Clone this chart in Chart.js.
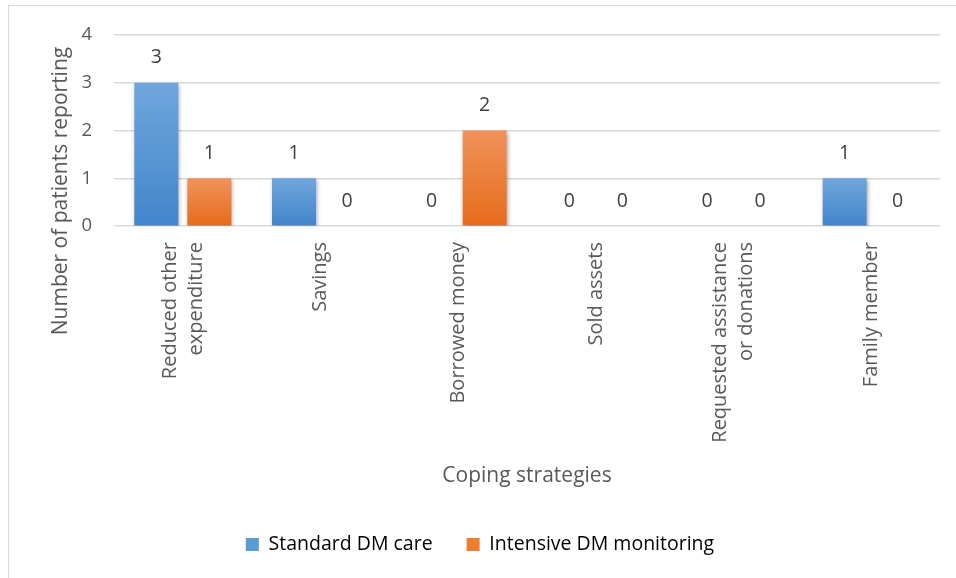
<!DOCTYPE html>
<html>
<head>
<meta charset="utf-8">
<script src="https://cdn.jsdelivr.net/npm/chart.js@4/dist/chart.umd.min.js"></script>
<style>
  html, body { margin: 0; padding: 0; background: #fff; overflow: hidden; }
  #wrap { position: relative; width: 956px; height: 578px; }
  #frame { position: absolute; left: 8px; top: 5px; width: 2000px; height: 2000px;
           border-left: 1.5px solid #d9d9d9; border-top: 1.5px solid #d9d9d9; box-sizing: border-box; }
  #box { position: absolute; left: 0; top: 0; width: 956px; height: 578px; }
</style>
</head>
<body>
<div id="wrap">
  <div id="frame"></div>
  <div id="box"><canvas id="c"></canvas></div>
</div>
<script>
// ---- data ----
const categories = [
  ["Reduced other", "expenditure"],
  "Savings",
  "Borrowed money",
  "Sold assets",
  ["Requested assistance", "or donations"],
  "Family member"
];
const standardCare = [3, 1, 0, 0, 0, 1];
const intensiveMonitoring = [1, 0, 2, 0, 0, 0];
const seriesNames = ["Standard DM care", "Intensive DM monitoring"];
const yTicks = [0, 1, 2, 3, 4];
const xTitle = "Coping strategies";
const yTitle = "Number of patients reporting";

const FONT = "'Open Sans', 'DejaVu Sans', sans-serif";
const blueStops = ["#70a6dc", "#4285cb"];
const orangeStops = ["#f1925c", "#e66c1a"];

function barGradient(stops) {
  return function (ctx) {
    const chart = ctx.chart;
    if (ctx.type !== 'data' || !chart.chartArea) return stops[1];
    const ys = chart.scales.y;
    const top = ys.getPixelForValue(ctx.raw);
    const bottom = ys.getPixelForValue(0);
    if (!isFinite(top) || Math.abs(bottom - top) < 1) return stops[1];
    const g = chart.ctx.createLinearGradient(0, top, 0, bottom);
    g.addColorStop(0, stops[0]);
    g.addColorStop(1, stops[1]);
    return g;
  };
}

const helpers = {
  id: 'helpers',
  beforeDraw(chart) {
    // center multi-line rotated category labels on their tick
    const sc = chart.scales.x;
    const items = sc.getLabelItems();
    items.forEach(it => {
      if (it._shifted) return;
      const lines = Array.isArray(it.label) ? it.label.length : 1;
      const lh = it.font.lineHeight;
      it.options.translation[0] -= (lines - 1) * lh / 2;
      it._shifted = true;
    });
  },
  afterDraw(chart) {
    // y-axis title
    const c = chart.ctx;
    c.save();
    c.translate(61, 191);
    c.rotate(-Math.PI / 2);
    c.font = "21px " + FONT;
    c.fillStyle = "#595959";
    c.textAlign = "center";
    c.textBaseline = "middle";
    c.fillText(yTitle, 0, 0);
    c.restore();
  },
  beforeDatasetsDraw(chart) {
    const c = chart.ctx;
    c.save();
    c.shadowColor = "rgba(0,0,0,0.35)";
    c.shadowBlur = 4;
    c.shadowOffsetX = 1;
    c.shadowOffsetY = 2;
  },
  afterDatasetsDraw(chart) {
    const c = chart.ctx;
    c.restore();
    c.save();
    c.font = "19.5px " + FONT;
    c.fillStyle = "#404040";
    c.textAlign = "center";
    c.textBaseline = "middle";
    chart.data.datasets.forEach((ds, di) => {
      const meta = chart.getDatasetMeta(di);
      meta.data.forEach((el, i) => {
        c.fillText(String(ds.data[i]), el.x, el.y - 25);
      });
    });
    c.restore();
  }
};

new Chart(document.getElementById('c'), {
  type: 'bar',
  data: {
    labels: categories,
    datasets: [
      { label: seriesNames[0], data: standardCare, backgroundColor: barGradient(blueStops), borderWidth: 0 },
      { label: seriesNames[1], data: intensiveMonitoring, backgroundColor: barGradient(orangeStops), borderWidth: 0 }
    ]
  },
  plugins: [helpers],
  options: {
    responsive: true,
    maintainAspectRatio: false,
    animation: false,
    events: [],
    datasets: { bar: { categoryPercentage: 0.77, barPercentage: 0.83 } },
    layout: { padding: { left: 20, right: 16, top: 35, bottom: 13.75 } },
    plugins: {
      tooltip: { enabled: false },
      legend: {
        position: 'bottom',
        labels: {
          font: { family: FONT, size: 19.5 },
          color: '#595959',
          boxWidth: 13,
          boxHeight: 13,
          padding: 34,
          generateLabels: () => [
            { text: seriesNames[0], fillStyle: '#5b9bd5', strokeStyle: '#5b9bd5', lineWidth: 0, datasetIndex: 0 },
            { text: seriesNames[1], fillStyle: '#ed7d31', strokeStyle: '#ed7d31', lineWidth: 0, datasetIndex: 1 }
          ]
        }
      }
    },
    scales: {
      x: {
        grid: { display: false, drawTicks: false },
        border: { display: false },
        ticks: {
          autoSkip: false,
          maxRotation: 90,
          minRotation: 90,
          padding: 16,
          color: '#595959',
          font: { family: FONT, size: 20, lineHeight: 1.3 }
        },
        title: {
          display: true,
          text: xTitle,
          color: '#595959',
          font: { family: FONT, size: 21, lineHeight: 1.2 },
          padding: { top: 0, bottom: 12 }
        },
        afterFit(scale) { scale.height = 274.75; }
      },
      y: {
        min: 0,
        max: 4,
        afterBuildTicks(scale) { scale.ticks = yTicks.map(v => ({ value: v })); },
        grid: { color: '#d9d9d9', lineWidth: 1.5, drawTicks: false },
        border: { display: false },
        ticks: {
          padding: 22,
          color: '#595959',
          font: { family: FONT, size: 18.5 }
        },
        afterFit(scale) { scale.width = 94; }
      }
    }
  }
});
</script>
</body>
</html>
